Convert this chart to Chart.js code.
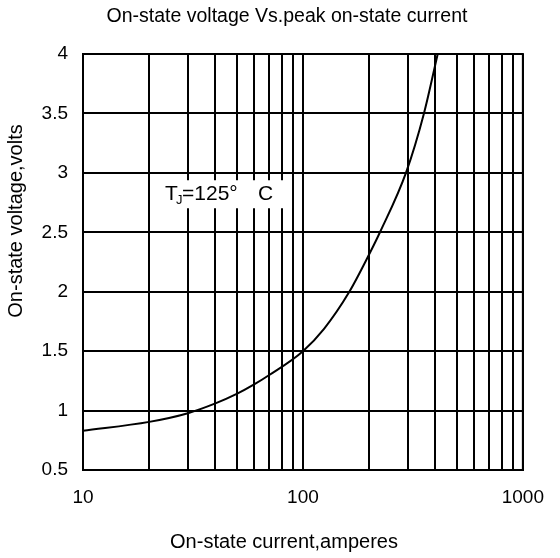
<!DOCTYPE html>
<html>
<head>
<meta charset="utf-8">
<script src="https://cdn.jsdelivr.net/npm/chart.js"></script>
<style>
  html, body { margin: 0; padding: 0; background: #fff; }
  #wrap { width: 560px; height: 558px; }
</style>
</head>
<body>
<div id="wrap"><canvas id="line-chart"></canvas></div>
<script>
// values
var current = [10, 20, 30, 40, 50, 60, 70, 100, 125, 162, 202, 224, 294, 355, 410];
var voltage = [0.83, 0.905, 0.978, 1.06, 1.14, 1.22, 1.297, 1.5, 1.69, 1.995, 2.33, 2.5, 3.0, 3.5, 4.0];

var xGrid = [10, 20, 30, 40, 50, 60, 70, 80, 90, 100, 200, 300, 400, 500, 600, 700, 800, 900, 1000];
var xLabels = [10, 100, 1000];

var chartTitle = 'On-state voltage Vs.peak on-state current';
var xTitle = 'On-state current,amperes';
var yTitle = 'On-state voltage,volts';

var FONT = "'Liberation Sans', Arial, sans-serif";

// T_J label, placed in data coords (left edge of text, middle)
var noteX = 23.6;
var noteY = 2.82;

var textPlugin = {
  id: 'texts',
  afterDatasetsDraw: function (chart) {
    var ctx = chart.ctx;
    var px = chart.scales.x.getPixelForValue(noteX);
    var py = chart.scales.y.getPixelForValue(noteY);
    ctx.save();
    ctx.fillStyle = '#fff';
    ctx.fillRect(px - 12, py - 14, 139, 28);
    ctx.fillStyle = '#000';
    ctx.textBaseline = 'middle';
    ctx.textAlign = 'left';
    ctx.font = '21px ' + FONT;
    ctx.fillText('T', px, py);
    ctx.font = '13px ' + FONT;
    ctx.fillText('J', px + 11, py + 6);
    ctx.font = '21px ' + FONT;
    ctx.fillText('=125°', px + 17, py);
    ctx.fillText('C', px + 93, py);
    ctx.restore();
  },
  afterDraw: function (chart) {
    var a = chart.chartArea;
    var ctx = chart.ctx;
    ctx.save();
    ctx.strokeStyle = '#000';
    ctx.lineWidth = 2;
    ctx.strokeRect(a.left, a.top, a.right - a.left, a.bottom - a.top);

    ctx.fillStyle = '#000';
    ctx.textAlign = 'center';
    ctx.textBaseline = 'middle';
    ctx.font = '19.5px ' + FONT;
    ctx.fillText(chartTitle, 287, 17);
    ctx.font = '20px ' + FONT;
    ctx.fillText(xTitle, 284, 542);
    ctx.translate(16, 221);
    ctx.rotate(-Math.PI / 2);
    ctx.fillText(yTitle, 0, 0);
    ctx.restore();
  }
};

var lineChartData = {
  datasets: [{
    label: 'TJ=125°C',
    data: current.map(function (c, i) { return { x: c, y: voltage[i] }; }),
    borderColor: '#000',
    borderWidth: 2,
    pointRadius: 0,
    fill: false,
    cubicInterpolationMode: 'monotone'
  }]
};

var lineChartOptions = {
  responsive: true,
  maintainAspectRatio: false,
  animation: false,
  layout: { padding: { left: 0, right: 27, top: 54, bottom: 0 } },
  plugins: {
    legend: { display: false },
    tooltip: { enabled: false },
    title: { display: false }
  },
  scales: {
    x: {
      type: 'logarithmic',
      min: 10,
      max: 1000,
      afterBuildTicks: function (scale) {
        scale.ticks = xGrid.map(function (v) { return { value: v }; });
      },
      afterFit: function (scale) { scale.height = 88; },
      ticks: {
        color: '#000',
        font: { family: FONT, size: 19 },
        padding: 16,
        autoSkip: false,
        maxRotation: 0,
        callback: function (v) { return xLabels.indexOf(v) >= 0 ? String(v) : ''; }
      },
      grid: { color: '#000', lineWidth: 2, drawTicks: false },
      border: { color: '#000', width: 2 }
    },
    y: {
      type: 'linear',
      min: 0.5,
      max: 4,
      afterFit: function (scale) { scale.width = 83; },
      ticks: {
        stepSize: 0.5,
        color: '#000',
        font: { family: FONT, size: 19 },
        padding: 15,
        callback: function (v) { return String(v); }
      },
      grid: { color: '#000', lineWidth: 2, drawTicks: false },
      border: { color: '#000', width: 2 }
    }
  }
};

var lineChart = new Chart(document.getElementById('line-chart'), {
  type: 'line',
  data: lineChartData,
  options: lineChartOptions,
  plugins: [textPlugin]
});
</script>
</body>
</html>
